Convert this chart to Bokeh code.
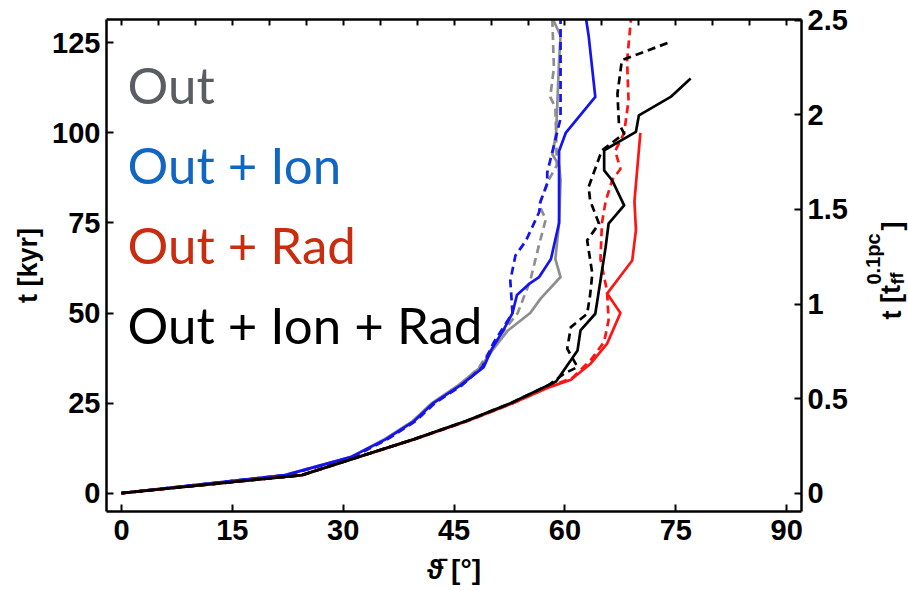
from bokeh.plotting import figure
from bokeh.layouts import row
from bokeh.models import Range1d, LinearAxis, FixedTicker, Label, CustomJSTickFormatter
from bokeh.core.properties import value
from bokeh.embed import file_html
from bokeh.resources import INLINE

# Mean cavity opening angle (deg) versus time (kyr) for each physics setup.
# Solid and dashed curves are the two runs of each setup.
t_out_a = [0, 5, 10, 15, 20, 25, 30, 35, 40, 45, 50, 54, 60, 65, 75, 87, 91, 94, 100, 110, 120, 127, 131, 135]
th_out_a = [0, 22.0, 31.0, 35.6, 39.4, 42.0, 45.6, 48.6, 50.3, 52.2, 55.3, 56.7, 59.4, 58.7, 59.2, 59.4, 59.2, 58.3, 58.8, 59.0, 59.2, 59.4, 58.5, 58.2]
t_out_b = [0, 5, 10, 15, 20, 25, 30, 35, 40, 44, 50, 59, 69, 76, 80, 87, 91, 100, 107, 110, 118, 131, 135]
th_out_b = [0, 22.1, 31.1, 35.8, 39.6, 42.3, 45.9, 48.4, 50.0, 51.3, 53.6, 55.3, 56.5, 57.4, 56.5, 57.8, 58.9, 58.8, 58.7, 58.0, 58.5, 58.3, 58.2]

t_ion_a = [0, 5, 10, 15, 20, 25, 30, 35, 40, 45, 50, 55, 58, 60, 65, 75, 95, 100, 110, 127, 135]
th_ion_a = [0, 22.2, 31.0, 35.8, 39.6, 42.2, 45.9, 49.0, 50.1, 51.6, 52.9, 53.5, 55.1, 56.5, 58.1, 59.2, 59.2, 60.1, 64.1, 63.2, 62.6]
t_ion_b = [0, 5, 10, 15, 20, 25, 30, 35, 42, 50, 59, 66, 70, 78, 81, 86, 89, 104, 135]
th_ion_b = [0, 22.3, 31.3, 36.0, 39.8, 42.4, 46.1, 48.8, 50.4, 52.9, 52.6, 53.3, 54.7, 56.5, 56.7, 57.6, 57.6, 59.4, 59.4]

t_rad_a = [0, 5, 10, 15, 20, 25, 29.5, 31.5, 36, 41.5, 50, 55.4, 60, 64.6, 73, 81, 100]
th_rad_a = [0, 24.4, 32.0, 39.7, 46.8, 53.0, 58.0, 60.8, 63.5, 65.7, 67.5, 65.7, 67.4, 69.1, 69.6, 69.4, 70.2]
t_rad_b = [0, 5, 10, 15, 20, 25, 29.5, 32, 37, 42, 48, 56, 65, 75, 81, 87, 90, 95, 100, 109, 120, 131, 135]
th_rad_b = [0, 24.4, 32.0, 39.7, 46.8, 53.0, 57.8, 61.0, 63.5, 65.3, 65.9, 65.7, 64.8, 65.0, 65.5, 66.4, 67.5, 66.8, 68.0, 68.6, 68.4, 68.9, 69.1]

t_all_a = [0, 5, 10, 15, 20, 25, 31, 39.6, 45.2, 49.8, 59, 68.3, 74.8, 79.9, 86.8, 89.6, 95.2, 100.3, 104.9, 110, 115.1]
th_all_a = [0, 24.4, 32.0, 39.6, 46.6, 52.7, 58.8, 61.7, 62.1, 64.1, 64.8, 65.5, 65.9, 68.0, 66.4, 65.3, 65.3, 69.6, 70.0, 74.3, 77.0]
t_all_b = [0, 5, 10, 15, 20, 25, 30, 33.2, 35, 40.1, 46.1, 49.8, 55, 60.9, 70.2, 74.8, 81.3, 85, 95.2, 99.8, 102.6, 110.9, 120.2, 125.3]
th_all_b = [0, 24.4, 32.0, 39.6, 46.6, 52.7, 57.8, 59.9, 61.7, 60.3, 60.8, 63.0, 63.4, 63.7, 63.0, 64.6, 63.4, 63.2, 65.0, 68.0, 67.3, 67.1, 67.7, 74.3]

x_ticks = [0, 15, 30, 45, 60, 75, 90]
x_top_ticks = list(range(0, 95, 5))
y_ticks = [0, 25, 50, 75, 100, 125]
tff_ticks = [0, 0.5, 1, 1.5, 2, 2.5]
KYR_PER_TFF = 52.5  # free-fall time at 0.1 pc, in kyr

legend_names = ["Out", "Out + Ion", "Out + Rad", "Out + Ion + Rad"]
legend_colors = ["#5a5e63", "#1166c2", "#c92c0e", "#000000"]
line_colors = ["#8e8e8e", "#1414f0", "#ff1414", "#000000"]

X0, X1 = -2.03, 92.0
Y0, Y1 = -5.1, 131.5
MAIN_W, H = 862, 590
SIDE_W = 908 - MAIN_W
FL, FR, FT, FB = 106, 801, 19, 511

p = figure(width=MAIN_W, height=H, x_range=Range1d(X0, X1), y_range=Range1d(Y0, Y1),
           output_backend="svg", toolbar_location=None,
           min_border_left=FL, min_border_right=MAIN_W - FR, min_border_top=FT,
           min_border_bottom=H - FB)
p.xgrid.visible = False
p.ygrid.visible = False
p.outline_line_color = None


def px_x(sx):
    return X0 + (sx - FL) * (X1 - X0) / (FR - FL)


def px_y(sy):
    return Y1 - (sy - FT) * (Y1 - Y0) / (FB - FT)


def style_axis(ax, size="29px"):
    ax.axis_line_width = 2.5
    ax.axis_line_color = "black"
    ax.major_tick_in = 7
    ax.major_tick_out = 0
    ax.major_tick_line_width = 2
    ax.major_tick_line_color = "black"
    ax.minor_tick_line_color = None
    ax.major_label_text_font = "Liberation Sans"
    ax.major_label_text_font_style = "bold"
    ax.major_label_text_font_size = size
    ax.major_label_text_color = "black"
    ax.axis_label_text_font = "Liberation Sans"
    ax.axis_label_text_font_style = "bold"
    ax.axis_label_text_font_size = "27px"
    ax.axis_label_text_color = "black"


xa = p.xaxis[0]
ya = p.yaxis[0]
xa.ticker = FixedTicker(ticks=x_ticks)
ya.ticker = FixedTicker(ticks=y_ticks)
style_axis(xa)
style_axis(ya)
xa.major_label_standoff = 8
ya.major_label_standoff = 6
xa.axis_label = "\u03d1\u0304 [\u00b0]"
xa.axis_label_standoff = 11
xa.axis_label_text_font_size = "28px"
ya.axis_label = "t [kyr]"
ya.axis_label_standoff = 6

p.extra_y_ranges = {"tff": Range1d(Y0 / KYR_PER_TFF, Y1 / KYR_PER_TFF)}
right_ax = LinearAxis(y_range_name="tff", ticker=FixedTicker(ticks=tff_ticks),
                      formatter=CustomJSTickFormatter(code="return String(Math.round(tick * 10) / 10);"))
style_axis(right_ax)
right_ax.major_label_standoff = 6
p.add_layout(right_ax, "right")

top_ax = LinearAxis(ticker=FixedTicker(ticks=x_top_ticks))
style_axis(top_ax, size="0px")
top_ax.major_tick_in = 6
top_ax.major_label_standoff = 0
p.add_layout(top_ax, "above")

series = [
    (t_out_a, th_out_a, 0, "solid"), (t_out_b, th_out_b, 0, "dashed"),
    (t_ion_a, th_ion_a, 1, "solid"), (t_ion_b, th_ion_b, 1, "dashed"),
    (t_rad_a, th_rad_a, 2, "solid"), (t_rad_b, th_rad_b, 2, "dashed"),
    (t_all_a, th_all_a, 3, "solid"), (t_all_b, th_all_b, 3, "dashed"),
]
for t, th, k, style in series:
    p.line(th, t, line_color=line_colors[k], line_width=2.7,
           line_dash="solid" if style == "solid" else "8 5", line_join="round")

# Setup names, stacked in the upper-left corner
for i, (name, col) in enumerate(zip(legend_names, legend_colors)):
    p.add_layout(Label(x=px_x(127), y=px_y(84 + 80 * i), text=name, text_color=col,
                       text_font="Lato", text_font_size="51px",
                       text_baseline="alphabetic", text_align="left"))

# Narrow strip to the right holding the free-fall-time axis title t [t_ff^0.1pc].
# Its frame spans the same rows as the main frame, and both ranges are in
# page pixels so the pieces of the title can be set like type.
side = figure(width=SIDE_W, height=H, x_range=Range1d(MAIN_W, 908), y_range=Range1d(FB, FT),
              output_backend="svg", toolbar_location=None,
              min_border_left=0, min_border_right=0, min_border_top=FT, min_border_bottom=H - FB)
side.axis.visible = False
side.xgrid.visible = False
side.ygrid.visible = False
side.outline_line_color = None

title_parts = [
    ("t [t", 891, 319, "27px"),
    ("ff", 897, 284, "18px"),
    ("0.1pc", 873, 284, "20px"),
    ("]", 891, 230, "27px"),
]
for txt, bx, by, size in title_parts:
    side.text(x=[bx], y=[by], text=[txt], angle=1.5708,
              text_font=value("Liberation Sans"), text_font_style="bold",
              text_font_size=size, text_color="black",
              text_align="left", text_baseline="alphabetic")

layout = row(p, side, spacing=0)
open("out.html", "w").write(file_html(layout, INLINE))
